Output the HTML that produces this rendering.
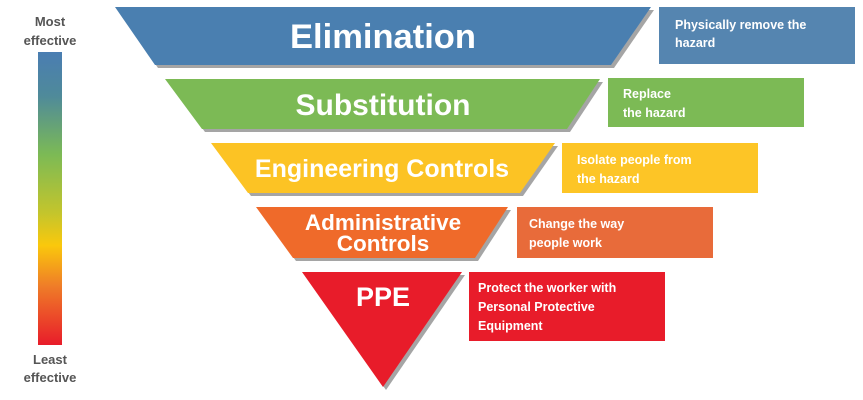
<!DOCTYPE html>
<html><head><meta charset="utf-8"><style>
html,body{margin:0;padding:0;background:#fff;}
svg{display:block;}
text{font-family:"Liberation Sans",sans-serif;font-weight:bold;}
</style></head><body>
<svg width="863" height="400" viewBox="0 0 863 400" xmlns="http://www.w3.org/2000/svg">
<defs>
<linearGradient id="g" x1="0" y1="0" x2="0" y2="1">
<stop offset="0" stop-color="#4a7db2"/>
<stop offset="0.15" stop-color="#4f8a9a"/>
<stop offset="0.35" stop-color="#7cba55"/>
<stop offset="0.55" stop-color="#c4c52c"/>
<stop offset="0.66" stop-color="#fac80c"/>
<stop offset="0.8" stop-color="#ef7c28"/>
<stop offset="1" stop-color="#e81c2a"/>
</linearGradient>
</defs>
<text x="50" y="26" font-size="13" fill="#555" text-anchor="middle">Most</text>
<text x="50" y="45" font-size="13" fill="#555" text-anchor="middle">effective</text>
<rect x="38" y="52" width="24" height="293" fill="url(#g)"/>
<text x="50" y="364" font-size="13" fill="#555" text-anchor="middle">Least</text>
<text x="50" y="382" font-size="13" fill="#555" text-anchor="middle">effective</text>

<g fill="#a5a5a5">
<polygon points="118,10 654,10 614,68 158,68"/>
<polygon points="168,82 603,82 570,132 205,132"/>
<polygon points="214,146 558,146 523,196 251,196"/>
<polygon points="259,210 511,210 478,261 296,261"/>
<polygon points="305,275 465,275 386,390"/>
</g>
<polygon points="115,7 651,7 611,65 155,65" fill="#4a7fb0"/>
<polygon points="165,79 600,79 567,129 202,129" fill="#7cba55"/>
<polygon points="211,143 555,143 520,193 248,193" fill="#fcc324"/>
<polygon points="256,207 508,207 475,258 293,258" fill="#ef6a2a"/>
<polygon points="302,272 462,272 383,387" fill="#e81c2a"/>

<g fill="#fff" text-anchor="middle">
<text x="383" y="48" font-size="34.5">Elimination</text>
<text x="383" y="115" font-size="30">Substitution</text>
<text x="382" y="177" font-size="25">Engineering Controls</text>
<text x="383" y="230" font-size="22.5">Administrative</text>
<text x="383" y="251" font-size="22.5">Controls</text>
<text x="383" y="306" font-size="27">PPE</text>
</g>

<rect x="659" y="7" width="196" height="57" fill="#5585b0"/>
<rect x="608" y="78" width="196" height="49" fill="#7cba55"/>
<rect x="562" y="143" width="196" height="50" fill="#fdc526"/>
<rect x="517" y="207" width="196" height="51" fill="#e86b3a"/>
<rect x="469" y="272" width="196" height="69" fill="#e81c2a"/>

<g fill="#fff" font-size="12.5">
<text x="675" y="29">Physically remove the</text>
<text x="675" y="47">hazard</text>
<text x="623" y="98">Replace</text>
<text x="623" y="117">the hazard</text>
<text x="577" y="164">Isolate people from</text>
<text x="577" y="183">the hazard</text>
<text x="529" y="228">Change the way</text>
<text x="529" y="247">people work</text>
<text x="478" y="292">Protect the worker with</text>
<text x="478" y="311">Personal Protective</text>
<text x="478" y="330">Equipment</text>
</g>
</svg>
</body></html>
